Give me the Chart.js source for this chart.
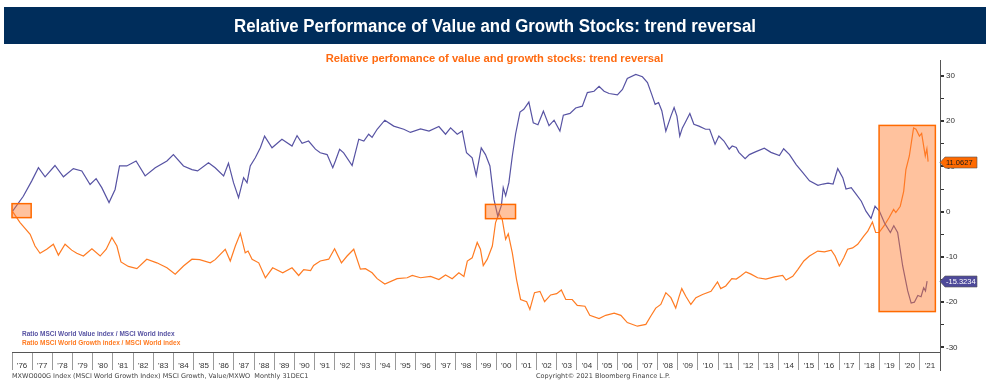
<!DOCTYPE html>
<html>
<head>
<meta charset="utf-8">
<script src="https://cdn.jsdelivr.net/npm/chart.js@4.4.1/dist/chart.umd.min.js"></script>
<style>
  html, body { margin: 0; padding: 0; background: #fff; }
  #wrap { position: relative; width: 989px; height: 388px; overflow: hidden; }
  #chart { position: absolute; left: 0; top: 0; }
  .sub {
    position: absolute; left: 0; top: 52px; width: 989px; text-align: center;
    color: #FF6A10; font: bold 11.2px "Liberation Sans", Arial, sans-serif;
  }
  .legend { position: absolute; left: 22px; top: 329px; font: bold 6.5px "Liberation Sans", Arial, sans-serif; line-height: 9px; }
  .foot { position: absolute; top: 372px; color: #444; font: 6.5px "DejaVu Sans", Verdana, sans-serif; white-space: pre; }
</style>
</head>
<body>
<div id="wrap">
  <canvas id="chart" width="989" height="388"></canvas>
  <div class="sub">Relative perfomance of value and growth stocks: trend reversal</div>
  <div class="legend">
    <div style="color:#5753A3">Ratio MSCI World Value index / MSCI World index</div>
    <div style="color:#FF7B22">Ratio MSCI World Growth index / MSCI World index</div>
  </div>
  <div class="foot" style="left:12px">MXWO000G Index (MSCI World Growth Index) MSCI Growth, Value/MXWO  Monthly 31DEC1</div>
  <div class="foot" style="left:536px">Copyright© 2021 Bloomberg Finance L.P.</div>
</div>
<script>
const TITLE = 'Relative Performance of Value and Growth Stocks: trend reversal';

// ---- tick labels ----
const yearLabels = ["'76","'77","'78","'79","'80","'81","'82","'83","'84","'85","'86","'87","'88","'89","'90",
  "'91","'92","'93","'94","'95","'96","'97","'98","'99","'00","'01","'02","'03","'04","'05","'06","'07",
  "'08","'09","'10","'11","'12","'13","'14","'15","'16","'17","'18","'19","'20","'21"];

// ---- Ratio MSCI World Value / MSCI World (purple) ----
const valueDates = [1976.03,1976.56,1976.98,1977.31,1977.64,1978.13,1978.55,1979.04,1979.46,1979.87,
  1980.17,1980.45,1980.81,1981.11,1981.33,1981.69,1982.15,1982.6,1983.1,1983.68,1984.0,1984.5,1984.92,
  1985.2,1985.74,1986.07,1986.49,1986.73,1986.98,1987.23,1987.48,1987.65,1987.81,1988.06,1988.31,1988.52,
  1988.89,1989.38,1989.88,1990.13,1990.38,1990.7,1991.04,1991.28,1991.62,1991.9,1992.03,1992.24,1992.44,
  1992.86,1993.19,1993.44,1993.68,1993.85,1994.1,1994.48,1994.92,1995.42,1995.75,1996.25,1996.67,1997.16,
  1997.49,1997.74,1998.07,1998.32,1998.53,1998.81,1999.01,1999.26,1999.47,1999.69,1999.89,2000.08,2000.26,
  2000.35,2000.47,2000.63,2000.8,2000.96,2001.18,2001.37,2001.62,2001.84,2002.07,2002.34,2002.62,2002.87,
  2003.16,2003.33,2003.66,2003.94,2004.27,2004.52,2004.85,2005.1,2005.35,2005.6,2006.01,2006.26,2006.5,
  2006.92,2007.25,2007.5,2007.71,2007.88,2008.05,2008.21,2008.41,2008.66,2008.82,2008.96,2009.1,2009.23,
  2009.36,2009.6,2009.8,2010.05,2010.38,2010.58,2010.85,2011.04,2011.29,2011.55,2011.7,2011.9,2012.03,
  2012.34,2012.55,2012.85,2013.29,2013.62,2014.04,2014.25,2014.54,2014.87,2015.2,2015.53,2015.95,2016.2,
  2016.45,2016.7,2016.93,2017.18,2017.34,2017.6,2017.85,2018.1,2018.33,2018.58,2018.78,2019.0,2019.25,
  2019.54,2019.71,2019.9,2020.15,2020.4,2020.57,2020.73,2020.9,2021.06,2021.19,2021.28,2021.36];
const valueRatio = [0.1,3.4,6.8,9.7,7.7,10.2,7.7,9.5,9.0,6.0,
  7.3,5.3,2.0,4.9,10.1,10.1,11.2,7.9,9.7,11.2,12.6,10.1,9.3,
  9.0,10.8,9.7,7.9,10.7,6.4,3.1,7.5,6.4,10.1,11.9,14.1,16.7,
  14.1,16.0,14.5,16.8,15.1,15.6,13.8,13.0,12.6,9.7,11.2,13.8,13.0,
  10.2,16.0,15.6,17.1,16.4,18.2,20.2,18.9,18.2,17.5,18.3,17.8,18.8,
  17.1,18.5,17.1,17.8,13.0,11.9,8.0,14.1,12.6,10.1,2.7,-1.0,1.4,
  5.3,3.5,6.4,12.3,17.1,22.0,22.6,24.2,19.6,19.2,22.2,19.0,20.2,
  17.8,21.3,21.7,22.9,23.3,26.3,26.6,27.7,26.6,26.1,25.8,27.0,29.4,
  30.3,29.8,28.5,25.9,23.7,24.1,22.3,17.8,21.1,23.0,21.1,16.7,18.5,
  19.6,21.7,19.3,18.9,18.2,18.2,14.9,16.7,15.6,13.8,14.5,14.2,13.1,
  11.7,12.6,13.2,14.0,13.1,12.4,13.9,12.6,10.4,8.6,6.8,5.8,6.1,
  6.3,6.1,9.5,7.5,5.0,5.3,3.8,2.3,0.1,-1.5,1.2,0.1,-2.5,
  -4.6,-3.1,-4.6,-12.0,-17.5,-20.2,-20.0,-18.5,-18.8,-16.8,-17.5,-15.3234];

// ---- Ratio MSCI World Growth / MSCI World (orange) ----
const growthDates = [1976.03,1976.4,1976.9,1977.14,1977.39,1977.72,1978.05,1978.3,1978.63,1978.96,
  1979.21,1979.54,1979.96,1980.37,1980.67,1980.95,1981.2,1981.4,1981.77,1982.19,1982.68,1983.18,1983.68,
  1984.09,1984.5,1984.92,1985.3,1985.83,1986.07,1986.57,1986.82,1987.07,1987.32,1987.56,1987.7,1987.9,
  1988.23,1988.56,1988.92,1989.42,1989.88,1990.21,1990.46,1990.8,1990.95,1991.28,1991.7,1991.99,1992.33,
  1992.61,1992.94,1993.27,1993.52,1993.85,1994.1,1994.48,1995.09,1995.59,1995.84,1996.25,1996.75,1997.16,
  1997.49,1997.82,1998.15,1998.4,1998.57,1998.81,1999.06,1999.22,1999.36,1999.56,1999.81,1999.97,2000.14,
  2000.3,2000.47,2000.6,2000.8,2001.01,2001.21,2001.51,2001.67,2001.9,2002.17,2002.4,2002.7,2003.0,
  2003.23,2003.45,2003.77,2004.02,2004.4,2004.64,2005.1,2005.43,2005.85,2006.18,2006.5,2007.0,2007.42,
  2007.66,2007.91,2008.16,2008.41,2008.66,2008.9,2009.07,2009.2,2009.4,2009.65,2009.9,2010.23,2010.65,
  2010.97,2011.13,2011.38,2011.68,2011.9,2012.12,2012.38,2012.63,2012.96,2013.37,2013.79,2014.2,2014.37,
  2014.7,2014.95,2015.25,2015.53,2015.94,2016.27,2016.61,2016.8,2017.01,2017.23,2017.42,2017.67,2017.92,
  2018.22,2018.42,2018.65,2018.81,2018.98,2019.23,2019.48,2019.7,2019.81,2020.03,2020.2,2020.31,2020.48,
  2020.69,2020.81,2020.98,2021.09,2021.27,2021.35,2021.41];
const growthRatio = [0,-2.4,-5.0,-7.6,-9.2,-8.3,-7.2,-9.6,-7.2,-8.5,
  -9.2,-9.8,-8.2,-9.8,-8.3,-5.7,-7.6,-11.1,-12.1,-12.6,-10.5,-11.3,-12.4,
  -13.8,-12.0,-10.5,-10.6,-11.3,-10.6,-8.3,-10.9,-7.6,-4.8,-9.1,-8.7,-10.5,
  -11.3,-14.6,-12.4,-13.5,-12.4,-14.1,-12.8,-13.0,-11.9,-10.9,-10.5,-8.2,-11.3,
  -9.8,-8.3,-12.7,-12.6,-13.5,-14.8,-16.0,-14.8,-14.6,-14.1,-14.6,-14.3,-15.0,
  -14.0,-14.8,-13.5,-14.3,-10.9,-10.2,-6.8,-8.3,-11.9,-10.5,-7.6,-2.4,-0.4,
  -1.7,-6.1,-4.9,-9.1,-15.0,-19.4,-19.9,-21.6,-17.9,-17.6,-19.9,-18.4,-18.1,
  -17.3,-19.4,-19.4,-20.7,-20.9,-22.9,-23.6,-22.9,-22.4,-22.9,-24.5,-25.3,-24.9,
  -23.1,-21.3,-20.5,-17.9,-19.0,-21.3,-18.7,-17.0,-18.7,-20.5,-19.0,-18.3,-17.6,
  -15.5,-17.0,-16.4,-14.8,-14.9,-14.2,-13.3,-13.8,-14.6,-14.9,-14.4,-14.1,-15.1,
  -14.3,-12.8,-10.9,-9.8,-8.7,-8.9,-8.5,-9.8,-12.0,-10.2,-8.3,-8.0,-7.2,
  -5.4,-4.3,-2.3,-4.6,-4.6,-3.1,-1.3,0.5,-0.2,1.2,4.5,9.3,12.3,
  18.5,18.2,16.7,17.3,12.3,13.9,11.0627];

// ---- highlighted periods (data units) ----
const boxFrom   = [1976.0, 1999.47, 2018.98];
const boxTo     = [1976.95, 2000.96, 2021.77];
const boxHigh   = [1.77, 1.6, 19.05];
const boxLow    = [-1.32, -1.55, -22.07];

const PURPLE = '#5753A3';
const ORANGE = '#FF7B22';

function pts(xs, ys) { return xs.map((x, i) => ({ x, y: ys[i] })); }

// navy title banner (narrow bold type squeezed to the original width)
const banner = {
  id: 'banner',
  beforeDraw(chart) {
    const ctx = chart.ctx;
    ctx.save();
    ctx.fillStyle = '#002D5B';
    ctx.fillRect(4, 7, 982, 37);
    ctx.font = 'bold 18px "Liberation Sans", Arial, sans-serif';
    const w = ctx.measureText(TITLE).width;
    ctx.translate(495, 32);
    ctx.scale(522 / w, 1);
    ctx.fillStyle = '#ffffff';
    ctx.textAlign = 'center';
    ctx.textBaseline = 'alphabetic';
    ctx.fillText(TITLE, 0, 0);
    ctx.restore();
  }
};

// boxes + last-value tags
const overlay = {
  id: 'overlay',
  afterDatasetsDraw(chart) {
    const { ctx, chartArea, scales: { x, y } } = chart;
    ctx.save();
    boxFrom.forEach((b, i) => {
      const l = x.getPixelForValue(b), r = x.getPixelForValue(boxTo[i]);
      const t = y.getPixelForValue(boxHigh[i]), btm = y.getPixelForValue(boxLow[i]);
      ctx.fillStyle = 'rgba(255,120,40,0.45)';
      ctx.fillRect(l, t, r - l, btm - t);
      ctx.strokeStyle = '#FF6A00';
      ctx.lineWidth = 1.5;
      ctx.strokeRect(l, t, r - l, btm - t);
    });

    // right axis line runs down through the date strip
    ctx.strokeStyle = '#555';
    ctx.lineWidth = 1;
    ctx.beginPath();
    ctx.moveTo(chartArea.right + 0.5, chartArea.bottom);
    ctx.lineTo(chartArea.right + 0.5, 371);
    ctx.stroke();

    const tags = [
      { v: growthRatio[growthRatio.length - 1], fill: '#FF6A00', text: '#1a1a1a' },
      { v: valueRatio[valueRatio.length - 1], fill: '#4E4A9A', text: '#ffffff' },
    ];
    ctx.font = '7.5px "Liberation Sans", Arial, sans-serif';
    ctx.textBaseline = 'middle';
    tags.forEach(tg => {
      const py = Math.round(y.getPixelForValue(tg.v)) + 0.5;
      const x0 = chartArea.right, h = 11, w = 37;
      ctx.beginPath();
      ctx.moveTo(x0, py);
      ctx.lineTo(x0 + 5, py - h / 2);
      ctx.lineTo(x0 + w, py - h / 2);
      ctx.lineTo(x0 + w, py + h / 2);
      ctx.lineTo(x0 + 5, py + h / 2);
      ctx.closePath();
      ctx.fillStyle = tg.fill;
      ctx.fill();
      ctx.strokeStyle = '#555';
      ctx.lineWidth = 0.6;
      ctx.stroke();
      ctx.fillStyle = tg.text;
      ctx.textAlign = 'left';
      ctx.fillText(tg.v.toFixed(4), x0 + 6, py + 0.5);
    });
    ctx.restore();
  }
};

new Chart(document.getElementById('chart'), {
  type: 'line',
  data: {
    datasets: [
      { label: 'Value', data: pts(valueDates, valueRatio), borderColor: PURPLE, borderWidth: 1.2,
        pointRadius: 0, tension: 0, xAxisID: 'x', yAxisID: 'y' },
      { label: 'Growth', data: pts(growthDates, growthRatio), borderColor: ORANGE, borderWidth: 1.2,
        pointRadius: 0, tension: 0, xAxisID: 'x', yAxisID: 'y' },
    ],
  },
  options: {
    responsive: false,
    animation: false,
    devicePixelRatio: 1,
    layout: { padding: { left: 12, top: 60, right: 0, bottom: 16 } },
    plugins: { legend: { display: false }, tooltip: { enabled: false } },
    scales: {
      x: { type: 'linear', min: 1976, max: 2022, display: false },
      xl: {
        type: 'category',
        position: 'bottom',
        labels: yearLabels,
        offset: true,
        afterFit: s => { s.height = 20; },
        border: { display: true, color: '#555', width: 1 },
        grid: { offset: true, drawOnChartArea: false, drawTicks: true, tickLength: 18, color: '#9a9a9a' },
        ticks: { autoSkip: false, maxRotation: 0, padding: -9, color: '#333',
          font: { family: '"Liberation Sans", Arial, sans-serif', size: 8 } },
      },
      y: {
        type: 'linear',
        position: 'right',
        min: -31,
        max: 33.5,
        afterFit: s => { s.width = 49; },
        border: { display: true, color: '#555', width: 1 },
        grid: {
          drawOnChartArea: false, drawTicks: true, tickLength: 4, color: '#333',
          lineWidth: c => (c.tick && c.tick.value % 10 === 0 ? 2 : 1),
        },
        ticks: {
          stepSize: 5, includeBounds: false, padding: 2, color: '#333',
          font: { family: '"Liberation Sans", Arial, sans-serif', size: 8 },
          callback: v => (v % 10 === 0 ? String(v) : ''),
        },
      },
    },
  },
  plugins: [banner, overlay],
});
</script>
</body>
</html>
